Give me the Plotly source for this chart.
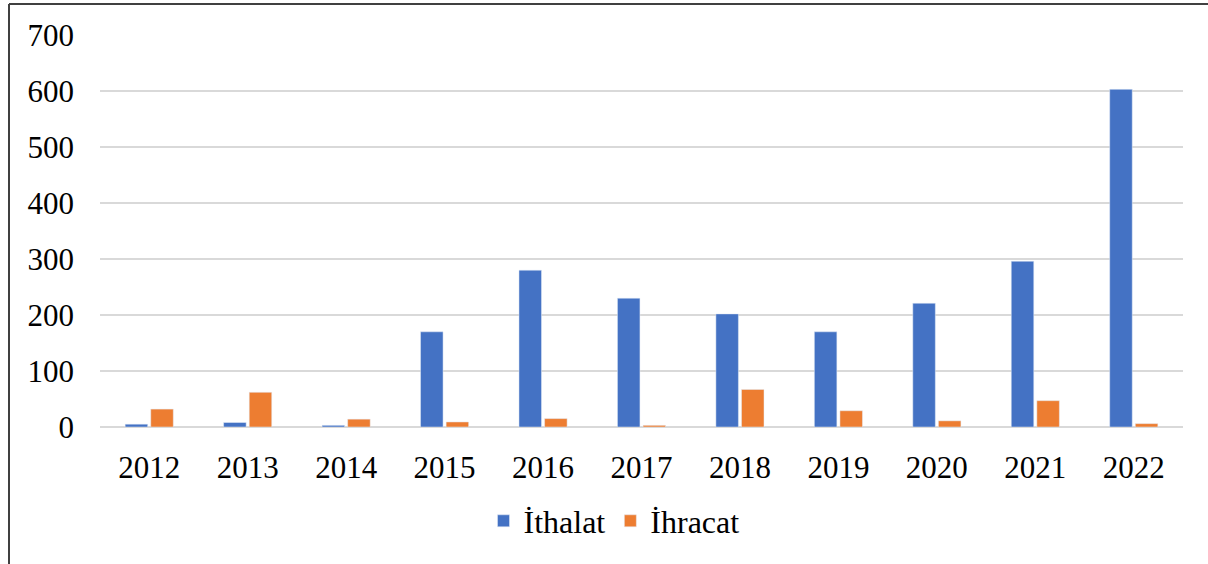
import plotly.graph_objects as go

years = ["2012", "2013", "2014", "2015", "2016", "2017", "2018", "2019", "2020", "2021", "2022"]
ithalat = [5, 8, 3, 170, 280, 230, 202, 170, 221, 296, 603]
ihracat = [32, 62, 14, 9, 15, 3, 67, 29, 11, 47, 6]

W, H = 1208, 564
L, R, T, B = 100, 25, 35, 137

fig = go.Figure()
fig.add_trace(go.Bar(name="İthalat", x=years, y=ithalat, marker_color="#4472C4"))
fig.add_trace(go.Bar(name="İhracat", x=years, y=ihracat, marker_color="#ED7D31"))

pw = W - L - R
ph = H - T - B
def px_x(p):
    return (p - L) / pw
def px_y(p):
    return (H - B - p) / ph

FONT = "Liberation Serif, serif"

fig.update_layout(
    width=W, height=H,
    margin=dict(l=L, r=R, t=T, b=B, pad=0),
    paper_bgcolor="white", plot_bgcolor="white",
    barmode="group", bargap=0.48, bargroupgap=0.12,
    font=dict(family=FONT, size=31, color="black"),
    showlegend=True,
    legend=dict(orientation="h", x=px_x(614), xanchor="center", y=px_y(521), yanchor="middle",
                font=dict(family=FONT, size=32), traceorder="normal", itemwidth=30),
    xaxis=dict(showgrid=False, showline=False, ticks="", tickfont=dict(family=FONT, size=31),
               zeroline=False, ticklabelstandoff=19),
    yaxis=dict(range=[0, 700], dtick=100, showgrid=True, gridcolor="#d9d9d9", gridwidth=2,
               zeroline=True, zerolinecolor="#d9d9d9", zerolinewidth=2,
               showline=False, ticks="", tickfont=dict(family=FONT, size=31), ticklabelstandoff=25),
    shapes=[
        dict(type="line", xref="paper", yref="paper", x0=px_x(9), x1=px_x(1215), y0=px_y(4), y1=px_y(4),
             line=dict(color="#404040", width=2)),
        dict(type="line", xref="paper", yref="paper", x0=px_x(9), x1=px_x(9), y0=px_y(4), y1=px_y(580),
             line=dict(color="#404040", width=2)),
    ],
)

fig.write_html("out.html", config={"displayModeBar": False},
               post_script="document.body.style.margin='0';")
